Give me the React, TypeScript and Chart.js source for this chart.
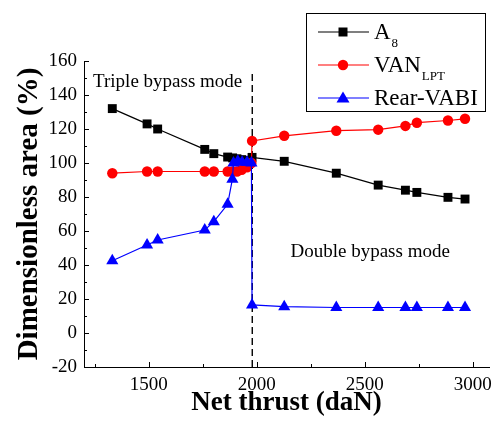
import React, { useEffect, useRef } from 'react';
import { Chart, registerables } from 'chart.js';

Chart.register(...registerables);

// Net thrust (daN) and dimensionless areas (%) for each variable geometry
const thrustA8 = [1331, 1492, 1541, 1759, 1801, 1865, 1888, 1908, 1930, 1955, 1978, 2127, 2368, 2562, 2688, 2741, 2885, 2964];
const areaA8 = [132, 123, 120, 108, 105.5, 103.5, 103, 102.5, 102, 101.5, 103.3, 101, 94, 87, 84, 82.7, 79.8, 78.8];

const thrustVan = [1331, 1492, 1541, 1759, 1801, 1865, 1888, 1908, 1930, 1955, 1975, 1978, 2127, 2368, 2562, 2688, 2741, 2885, 2964];
const areaVan = [94, 95, 95, 95, 95, 95, 95, 95, 96, 97.5, 100, 113, 116, 119, 119.6, 121.8, 123.7, 125, 126];

const thrustVabi = [1331, 1492, 1541, 1759, 1801, 1865, 1887, 1892, 1912, 1932, 1955, 1975, 1978, 2127, 2368, 2562, 2688, 2741, 2885, 2964];
const areaVabi = [42.5, 51.8, 54.7, 60.6, 65.5, 75.7, 90.5, 100, 101, 100.5, 100.5, 100, 16.5, 15.5, 15, 15, 15, 15, 15, 15];

// Mode switch between triple and double bypass operation
const modeSwitchThrust = 1979;
const modeSwitchSpan = [-20, 153];

const xTickValues = [1500, 2000, 2500, 3000];
const yTickValues = [-20, 0, 20, 40, 60, 80, 100, 120, 140, 160];

const SERIF = "'Liberation Serif', 'Times New Roman', serif";

const pts = (xs: number[], ys: number[]) => xs.map((x, i) => ({ x, y: ys[i] }));

function drawMarker(ctx: CanvasRenderingContext2D, style: string, x: number, y: number, color: string) {
  ctx.fillStyle = color;
  ctx.beginPath();
  if (style === 'rect') {
    ctx.rect(x - 4.5, y - 4.5, 9, 9);
  } else if (style === 'circle') {
    ctx.arc(x, y, 5.2, 0, Math.PI * 2);
  } else {
    ctx.moveTo(x, y - 6.5);
    ctx.lineTo(x + 6.5, y + 4.5);
    ctx.lineTo(x - 6.5, y + 4.5);
    ctx.closePath();
  }
  ctx.fill();
}

const legendItems = [
  { main: 'A', sub: '8', color: '#000000', style: 'rect' },
  { main: 'VAN', sub: 'LPT', color: '#ff0000', style: 'circle' },
  { main: 'Rear-VABI', sub: '', color: '#0000ff', style: 'triangle' },
];

const decorPlugin = {
  id: 'decor',
  afterDraw(chart: any) {
    const { ctx, chartArea, scales } = chart;
    const x = scales.x;
    const y = scales.y;
    ctx.save();

    // inward tick marks on the left and bottom axes
    ctx.strokeStyle = '#000';
    ctx.lineWidth = 1;
    ctx.beginPath();
    for (let v = -20; v <= 160; v += 10) {
      const py = Math.round(y.getPixelForValue(v)) + 0.5;
      const len = v % 20 === 0 ? 5 : 3;
      ctx.moveTo(chartArea.left, py);
      ctx.lineTo(chartArea.left + len, py);
    }
    for (let v = 1250; v <= 3000; v += 250) {
      const px = Math.round(x.getPixelForValue(v)) + 0.5;
      const len = v % 500 === 0 ? 5 : 3;
      ctx.moveTo(px, chartArea.bottom);
      ctx.lineTo(px, chartArea.bottom - len);
    }
    ctx.stroke();

    // mode annotations
    ctx.fillStyle = '#000';
    ctx.font = `19px ${SERIF}`;
    ctx.textAlign = 'left';
    ctx.textBaseline = 'alphabetic';
    ctx.fillText('Triple bypass mode', x.getPixelForValue(1242), y.getPixelForValue(144.9));
    ctx.fillText('Double bypass mode', x.getPixelForValue(2156), y.getPixelForValue(44.5));

    // legend box
    const bx = 306, by = 13, bw = 179, bh = 98;
    ctx.fillStyle = '#fff';
    ctx.fillRect(bx, by, bw, bh);
    ctx.strokeStyle = '#000';
    ctx.lineWidth = 1;
    ctx.strokeRect(bx + 0.5, by + 0.5, bw, bh);

    legendItems.forEach((item, i) => {
      const rowY = 32 + i * 33;
      ctx.strokeStyle = item.color;
      ctx.lineWidth = 1.2;
      ctx.beginPath();
      ctx.moveTo(318, rowY);
      ctx.lineTo(369, rowY);
      ctx.stroke();
      drawMarker(ctx, item.style, 343, rowY, item.color);

      ctx.fillStyle = '#000';
      ctx.font = `23px ${SERIF}`;
      ctx.fillText(item.main, 374, rowY + 7);
      if (item.sub) {
        const w = ctx.measureText(item.main).width;
        ctx.font = `13px ${SERIF}`;
        ctx.fillText(item.sub, 374 + w + 1, rowY + 15);
      }
    });

    ctx.restore();
  },
};

export default function App() {
  const canvasRef = useRef<HTMLCanvasElement | null>(null);

  useEffect(() => {
    if (!canvasRef.current) return;
    const lineStyle = (color: string, pointStyle: string, radius: number) => ({
      borderColor: color,
      backgroundColor: color,
      borderWidth: 1.2,
      pointStyle,
      pointRadius: radius,
      pointBorderWidth: 0,
      pointBackgroundColor: color,
      tension: 0,
    });

    const chart = new Chart(canvasRef.current, {
      type: 'line',
      data: {
        datasets: [
          {
            label: 'A8',
            data: pts(thrustA8, areaA8),
            order: 3,
            ...lineStyle('#000000', 'rect', 6.3),
          },
          {
            label: 'VAN_LPT',
            data: pts(thrustVan, areaVan),
            order: 2,
            ...lineStyle('#ff0000', 'circle', 5.2),
          },
          {
            label: 'Rear-VABI',
            data: pts(thrustVabi, areaVabi),
            order: 1,
            ...lineStyle('#0000ff', 'triangle', 7),
          },
          {
            label: 'mode switch',
            data: modeSwitchSpan.map((v) => ({ x: modeSwitchThrust, y: v })),
            order: 4,
            borderColor: '#000',
            borderWidth: 1.4,
            borderDash: [7, 4],
            pointRadius: 0,
          },
        ],
      },
      options: {
        responsive: false,
        animation: false,
        events: [],
        layout: { padding: { top: 61, left: 0, right: 0, bottom: 0 } },
        plugins: {
          legend: { display: false },
          tooltip: { enabled: false },
        },
        scales: {
          x: {
            type: 'linear',
            min: 1200,
            max: 3075,
            grid: { display: false, drawTicks: false },
            border: { display: true, color: '#000', width: 1 },
            ticks: {
              color: '#000',
              padding: 7,
              font: { family: SERIF, size: 19 },
              callback: (v: any) => String(v),
            },
            title: {
              display: true,
              text: 'Net thrust (daN)',
              color: '#000',
              font: { family: SERIF, size: 27, weight: 'bold' },
              padding: { top: 0, bottom: 9 },
            },
            afterBuildTicks: (scale: any) => {
              scale.ticks = xTickValues.map((value) => ({ value }));
            },
            afterFit: (scale: any) => {
              scale.height = 61;
              scale.paddingLeft = 0;
              scale.paddingRight = 0;
            },
          },
          y: {
            type: 'linear',
            min: -20,
            max: 160,
            grid: { display: false, drawTicks: false },
            border: { display: true, color: '#000', width: 1 },
            ticks: {
              color: '#000',
              padding: 7,
              font: { family: SERIF, size: 19 },
              callback: (v: any) => String(v),
            },
            title: {
              display: true,
              text: 'Dimensionless area (%)',
              color: '#000',
              font: { family: SERIF, size: 29, weight: 'bold' },
              padding: { top: 12, bottom: 0 },
            },
            afterBuildTicks: (scale: any) => {
              scale.ticks = yTickValues.map((value) => ({ value }));
            },
            afterFit: (scale: any) => {
              scale.width = 84;
              scale.paddingTop = 0;
              scale.paddingBottom = 0;
            },
          },
        },
      },
      plugins: [decorPlugin],
    } as any);

    return () => chart.destroy();
  }, []);

  return (
    <div style={{ position: 'absolute', left: 0, top: 0, width: 496, height: 428, background: '#fff' }}>
      <canvas ref={canvasRef} width={496} height={428} />
    </div>
  );
}
